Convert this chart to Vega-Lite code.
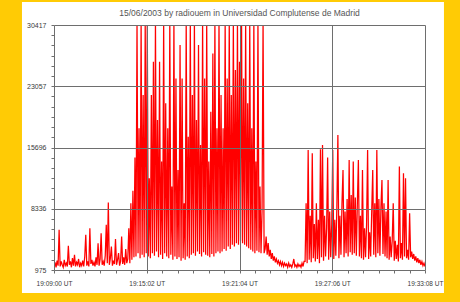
{
  "$schema": "https://vega.github.io/schema/vega-lite/v6.json",
  "width": 371,
  "height": 245,
  "autosize": {"type": "none"},
  "padding": {"left": 54, "top": 25, "right": 35, "bottom": 32},
  "background": "#FFCB05",
  "config": {"view": {"stroke": null, "fill": "white"}, "font": "Liberation Sans, sans-serif"},
  "title": {"text": "15/06/2003  by  radiouem  in  Universidad Complutense de Madrid", "fontSize": 8.5, "fontWeight": "normal", "color": "#555555", "anchor": "middle", "frame": "group", "offset": -16, "zindex": 1},
  "layer": [
    {
      "data": {"values": [{}]},
      "mark": {"type": "rect", "color": "white"},
      "encoding": {
        "x": {"datum": -125, "type": "quantitative", "scale": {"domain": [0, 1448], "nice": false, "zero": false}, "axis": {"title": null, "values": [0,60.333,120.667,181,241.333,301.667,362,422.333,482.667,543,603.333,663.667,724,784.333,844.667,905,965.333,1025.667,1086,1146.333,1206.667,1267,1327.333,1387.667,1448], "labelExpr": "datum.value == 0 ? '19:09:00 UT' : datum.value == 362 ? '19:15:02 UT' : datum.value == 724 ? '19:21:04 UT' : datum.value == 1086 ? '19:27:06 UT' : datum.value == 1448 ? '19:33:08 UT' : ''", "grid": true, "gridColor": "#6e6e6e", "gridWidth": 1, "gridOpacity": {"condition": {"test": "datum.value % 362 == 0", "value": 1}, "value": 0}, "domain": false, "tickColor": "#6e6e6e", "tickSize": 3, "labelFontSize": 6.5, "labelColor": "#3a3a3a", "labelPadding": 7, "labelFlush": false, "labelOverlap": false, "labelBound": false, "zindex": 1}},
        "x2": {"datum": 1522},
        "y": {"datum": -1789, "type": "quantitative", "scale": {"domain": [975, 30417], "nice": false, "zero": false}, "axis": {"title": null, "values": [975,2201.75,3428.5,4655.25,5882,7108.75,8335.5,9562.25,10789,12015.75,13242.5,14469.25,15696,16922.75,18149.5,19376.25,20603,21829.75,23056.5,24283.25,25510,26736.75,27963.5,29190.25,30417], "labelExpr": "(datum.value - 975) % 7360.5 == 0 ? format(round(datum.value), 'd') : ''", "grid": true, "gridColor": "#6e6e6e", "gridWidth": 1, "gridOpacity": {"condition": {"test": "(datum.value - 975) % 7360.5 == 0", "value": 1}, "value": 0}, "domain": false, "tickColor": "#6e6e6e", "tickSize": 3, "labelFontSize": 7, "labelColor": "#3a3a3a", "labelPadding": 5, "labelOverlap": false, "labelBound": false, "zindex": 1}},
        "y2": {"datum": 33181}
      }
    },
    {
      "data": {"values": [
        {"t":0,"v":1400},{"t":4,"v":1900},{"t":8,"v":1300},{"t":12,"v":2100},{"t":16,"v":1500},{"t":20,"v":5800},{"t":24,"v":1400},{"t":28,"v":2000},{"t":32,"v":1600},{"t":36,"v":1300},
        {"t":40,"v":2200},{"t":44,"v":1500},{"t":48,"v":1800},{"t":52,"v":1400},{"t":56,"v":3900},{"t":60,"v":1600},{"t":64,"v":2000},{"t":68,"v":1300},{"t":72,"v":2400},{"t":76,"v":1500},
        {"t":80,"v":2800},{"t":84,"v":1400},{"t":88,"v":1900},{"t":92,"v":1600},{"t":96,"v":2300},{"t":100,"v":1300},{"t":104,"v":1800},{"t":108,"v":1500},{"t":112,"v":2100},{"t":116,"v":1400},
        {"t":120,"v":2600},{"t":124,"v":5200},{"t":128,"v":1500},{"t":132,"v":2000},{"t":136,"v":1400},{"t":140,"v":6000},{"t":144,"v":1700},{"t":148,"v":2200},{"t":152,"v":1500},{"t":156,"v":1900},
        {"t":160,"v":1400},{"t":164,"v":2500},{"t":168,"v":1600},{"t":172,"v":4200},{"t":176,"v":1500},{"t":180,"v":2300},{"t":184,"v":5400},{"t":188,"v":1600},{"t":192,"v":2000},{"t":196,"v":1500},
        {"t":200,"v":2700},{"t":204,"v":6400},{"t":208,"v":1800},{"t":212,"v":9100},{"t":216,"v":1600},{"t":220,"v":2400},{"t":224,"v":3800},{"t":228,"v":1500},{"t":232,"v":2100},{"t":236,"v":1700},
        {"t":240,"v":4700},{"t":244,"v":1600},{"t":248,"v":2200},{"t":252,"v":3000},{"t":256,"v":1500},{"t":260,"v":2000},{"t":264,"v":5000},{"t":268,"v":1700},{"t":272,"v":2500},{"t":276,"v":1600},
        {"t":280,"v":3500},{"t":284,"v":1800},{"t":288,"v":2300},{"t":292,"v":6000},{"t":296,"v":1800},{"t":300,"v":9000},{"t":304,"v":2200},{"t":308,"v":10500},{"t":312,"v":2500},{"t":316,"v":14500},
        {"t":320,"v":2600},{"t":324,"v":31000},{"t":328,"v":3000},{"t":332,"v":18000},{"t":336,"v":2400},{"t":340,"v":31000},{"t":344,"v":2800},{"t":348,"v":22000},{"t":352,"v":2500},{"t":356,"v":31000},
        {"t":360,"v":3000},{"t":364,"v":31000},{"t":368,"v":2600},{"t":372,"v":12000},{"t":376,"v":2400},{"t":380,"v":22000},{"t":384,"v":3000},{"t":388,"v":26000},{"t":392,"v":2700},{"t":396,"v":31000},
        {"t":400,"v":3200},{"t":404,"v":19000},{"t":408,"v":2500},{"t":412,"v":26000},{"t":416,"v":2800},{"t":420,"v":14000},{"t":424,"v":2300},{"t":428,"v":31000},{"t":432,"v":3000},{"t":436,"v":21000},
        {"t":440,"v":2600},{"t":444,"v":18000},{"t":448,"v":2400},{"t":452,"v":31000},{"t":456,"v":2800},{"t":460,"v":11000},{"t":464,"v":2200},{"t":468,"v":31000},{"t":472,"v":2600},{"t":476,"v":24000},
        {"t":480,"v":2300},{"t":484,"v":13000},{"t":488,"v":2500},{"t":492,"v":28000},{"t":496,"v":2100},{"t":500,"v":24000},{"t":504,"v":2400},{"t":508,"v":9000},{"t":512,"v":2200},{"t":516,"v":31000},
        {"t":520,"v":2600},{"t":524,"v":17000},{"t":528,"v":2400},{"t":532,"v":31000},{"t":536,"v":2800},{"t":540,"v":22000},{"t":544,"v":3000},{"t":548,"v":31000},{"t":552,"v":2700},{"t":556,"v":19000},
        {"t":560,"v":3200},{"t":564,"v":28000},{"t":568,"v":2900},{"t":572,"v":16000},{"t":576,"v":2600},{"t":580,"v":31000},{"t":584,"v":3100},{"t":588,"v":24000},{"t":592,"v":2800},{"t":596,"v":31000},
        {"t":600,"v":2700},{"t":604,"v":14000},{"t":608,"v":2500},{"t":612,"v":20000},{"t":616,"v":2900},{"t":620,"v":27000},{"t":624,"v":2600},{"t":628,"v":31000},{"t":632,"v":3000},{"t":636,"v":18000},
        {"t":640,"v":3200},{"t":644,"v":31000},{"t":648,"v":3000},{"t":652,"v":22000},{"t":656,"v":3200},{"t":660,"v":18000},{"t":664,"v":3500},{"t":668,"v":31000},{"t":672,"v":3300},{"t":676,"v":24000},
        {"t":680,"v":3800},{"t":684,"v":31000},{"t":688,"v":3500},{"t":692,"v":22000},{"t":696,"v":4000},{"t":700,"v":31000},{"t":704,"v":3800},{"t":708,"v":25000},{"t":712,"v":4200},{"t":716,"v":31000},
        {"t":720,"v":4000},{"t":724,"v":26000},{"t":728,"v":4500},{"t":732,"v":31000},{"t":736,"v":4200},{"t":740,"v":24000},{"t":744,"v":4000},{"t":748,"v":31000},{"t":752,"v":3800},{"t":756,"v":21000},
        {"t":760,"v":3600},{"t":764,"v":31000},{"t":768,"v":3400},{"t":772,"v":18000},{"t":776,"v":3200},{"t":780,"v":31000},{"t":784,"v":3000},{"t":788,"v":14000},{"t":792,"v":3300},{"t":796,"v":31000},
        {"t":800,"v":3100},{"t":804,"v":11000},{"t":808,"v":3000},{"t":812,"v":8000},{"t":816,"v":31000},{"t":820,"v":3000},{"t":824,"v":3500},{"t":828,"v":5000},{"t":832,"v":2800},{"t":836,"v":4200},
        {"t":840,"v":2600},{"t":844,"v":3400},{"t":848,"v":2300},{"t":852,"v":3000},{"t":856,"v":2100},{"t":860,"v":2600},{"t":864,"v":1900},{"t":868,"v":2300},{"t":872,"v":1800},{"t":876,"v":2100},
        {"t":880,"v":1600},{"t":884,"v":2000},{"t":888,"v":1500},{"t":892,"v":1900},{"t":896,"v":1400},{"t":900,"v":1800},{"t":904,"v":1500},{"t":908,"v":1700},{"t":912,"v":1300},{"t":916,"v":1800},
        {"t":920,"v":1400},{"t":924,"v":1600},{"t":928,"v":1300},{"t":932,"v":1700},{"t":936,"v":2300},{"t":940,"v":1400},{"t":944,"v":1600},{"t":948,"v":1300},{"t":952,"v":1700},{"t":956,"v":1400},
        {"t":960,"v":1600},{"t":964,"v":1300},{"t":968,"v":1800},{"t":972,"v":1400},{"t":976,"v":2000},{"t":980,"v":2000},{"t":984,"v":9000},{"t":988,"v":1800},{"t":992,"v":15400},{"t":996,"v":2200},
        {"t":1000,"v":7500},{"t":1004,"v":1900},{"t":1008,"v":15000},{"t":1012,"v":2400},{"t":1016,"v":6500},{"t":1020,"v":2000},{"t":1024,"v":9000},{"t":1028,"v":2300},{"t":1032,"v":7000},{"t":1036,"v":1800},
        {"t":1040,"v":15500},{"t":1044,"v":2500},{"t":1048,"v":16000},{"t":1052,"v":2100},{"t":1056,"v":7500},{"t":1060,"v":2600},{"t":1064,"v":6000},{"t":1068,"v":14500},{"t":1072,"v":2200},{"t":1076,"v":8000},
        {"t":1080,"v":2500},{"t":1084,"v":6500},{"t":1088,"v":15400},{"t":1092,"v":2300},{"t":1096,"v":7000},{"t":1100,"v":2700},{"t":1104,"v":8500},{"t":1108,"v":17200},{"t":1112,"v":2400},{"t":1116,"v":7500},
        {"t":1120,"v":2800},{"t":1124,"v":9000},{"t":1128,"v":13000},{"t":1132,"v":2500},{"t":1136,"v":8000},{"t":1140,"v":3000},{"t":1144,"v":9500},{"t":1148,"v":2600},{"t":1152,"v":14200},{"t":1156,"v":3100},
        {"t":1160,"v":10000},{"t":1164,"v":2800},{"t":1168,"v":14000},{"t":1172,"v":3000},{"t":1176,"v":9700},{"t":1180,"v":2700},{"t":1184,"v":9000},{"t":1188,"v":14200},{"t":1192,"v":2600},{"t":1196,"v":7500},
        {"t":1200,"v":2400},{"t":1204,"v":13000},{"t":1208,"v":2200},{"t":1212,"v":6000},{"t":1216,"v":2500},{"t":1220,"v":6500},{"t":1224,"v":15400},{"t":1228,"v":2300},{"t":1232,"v":5500},{"t":1236,"v":2600},
        {"t":1240,"v":8000},{"t":1244,"v":13000},{"t":1248,"v":2800},{"t":1252,"v":9000},{"t":1256,"v":2500},{"t":1260,"v":15400},{"t":1264,"v":3000},{"t":1268,"v":9500},{"t":1272,"v":2700},{"t":1276,"v":8500},
        {"t":1280,"v":11800},{"t":1284,"v":2900},{"t":1288,"v":9000},{"t":1292,"v":2600},{"t":1296,"v":8000},{"t":1300,"v":2400},{"t":1304,"v":11800},{"t":1308,"v":2200},{"t":1312,"v":5000},{"t":1316,"v":2500},
        {"t":1320,"v":4500},{"t":1324,"v":9000},{"t":1328,"v":2100},{"t":1332,"v":4500},{"t":1336,"v":2300},{"t":1340,"v":4000},{"t":1344,"v":2000},{"t":1348,"v":13400},{"t":1352,"v":2400},{"t":1356,"v":4200},
        {"t":1360,"v":2200},{"t":1364,"v":12600},{"t":1368,"v":2600},{"t":1372,"v":12000},{"t":1376,"v":2400},{"t":1380,"v":3400},{"t":1384,"v":2200},{"t":1388,"v":7800},{"t":1392,"v":2500},{"t":1396,"v":3200},
        {"t":1400,"v":2300},{"t":1404,"v":2900},{"t":1408,"v":2100},{"t":1412,"v":2600},{"t":1416,"v":1900},{"t":1420,"v":2400},{"t":1424,"v":1800},{"t":1428,"v":2200},{"t":1432,"v":1600},{"t":1436,"v":2000},
        {"t":1440,"v":1500},{"t":1444,"v":1800},{"t":1448,"v":1400}
      ]},
      "mark": {"type": "line", "color": "#FF0000", "strokeWidth": 1.25, "clip": true},
      "encoding": {
        "x": {"field": "t", "type": "quantitative", "scale": {"domain": [0, 1448], "nice": false, "zero": false}, "axis": {"title": null, "values": [0,60.333,120.667,181,241.333,301.667,362,422.333,482.667,543,603.333,663.667,724,784.333,844.667,905,965.333,1025.667,1086,1146.333,1206.667,1267,1327.333,1387.667,1448], "labelExpr": "datum.value == 0 ? '19:09:00 UT' : datum.value == 362 ? '19:15:02 UT' : datum.value == 724 ? '19:21:04 UT' : datum.value == 1086 ? '19:27:06 UT' : datum.value == 1448 ? '19:33:08 UT' : ''", "grid": true, "gridColor": "#6e6e6e", "gridWidth": 1, "gridOpacity": {"condition": {"test": "datum.value % 362 == 0", "value": 1}, "value": 0}, "domain": false, "tickColor": "#6e6e6e", "tickSize": 3, "labelFontSize": 6.5, "labelColor": "#3a3a3a", "labelPadding": 7, "labelFlush": false, "labelOverlap": false, "labelBound": false, "zindex": 1}},
        "y": {"field": "v", "type": "quantitative", "scale": {"domain": [975, 30417], "nice": false, "zero": false}, "axis": {"title": null, "values": [975,2201.75,3428.5,4655.25,5882,7108.75,8335.5,9562.25,10789,12015.75,13242.5,14469.25,15696,16922.75,18149.5,19376.25,20603,21829.75,23056.5,24283.25,25510,26736.75,27963.5,29190.25,30417], "labelExpr": "(datum.value - 975) % 7360.5 == 0 ? format(round(datum.value), 'd') : ''", "grid": true, "gridColor": "#6e6e6e", "gridWidth": 1, "gridOpacity": {"condition": {"test": "(datum.value - 975) % 7360.5 == 0", "value": 1}, "value": 0}, "domain": false, "tickColor": "#6e6e6e", "tickSize": 3, "labelFontSize": 7, "labelColor": "#3a3a3a", "labelPadding": 5, "labelOverlap": false, "labelBound": false, "zindex": 1}}
      }
    }
  ]
}
